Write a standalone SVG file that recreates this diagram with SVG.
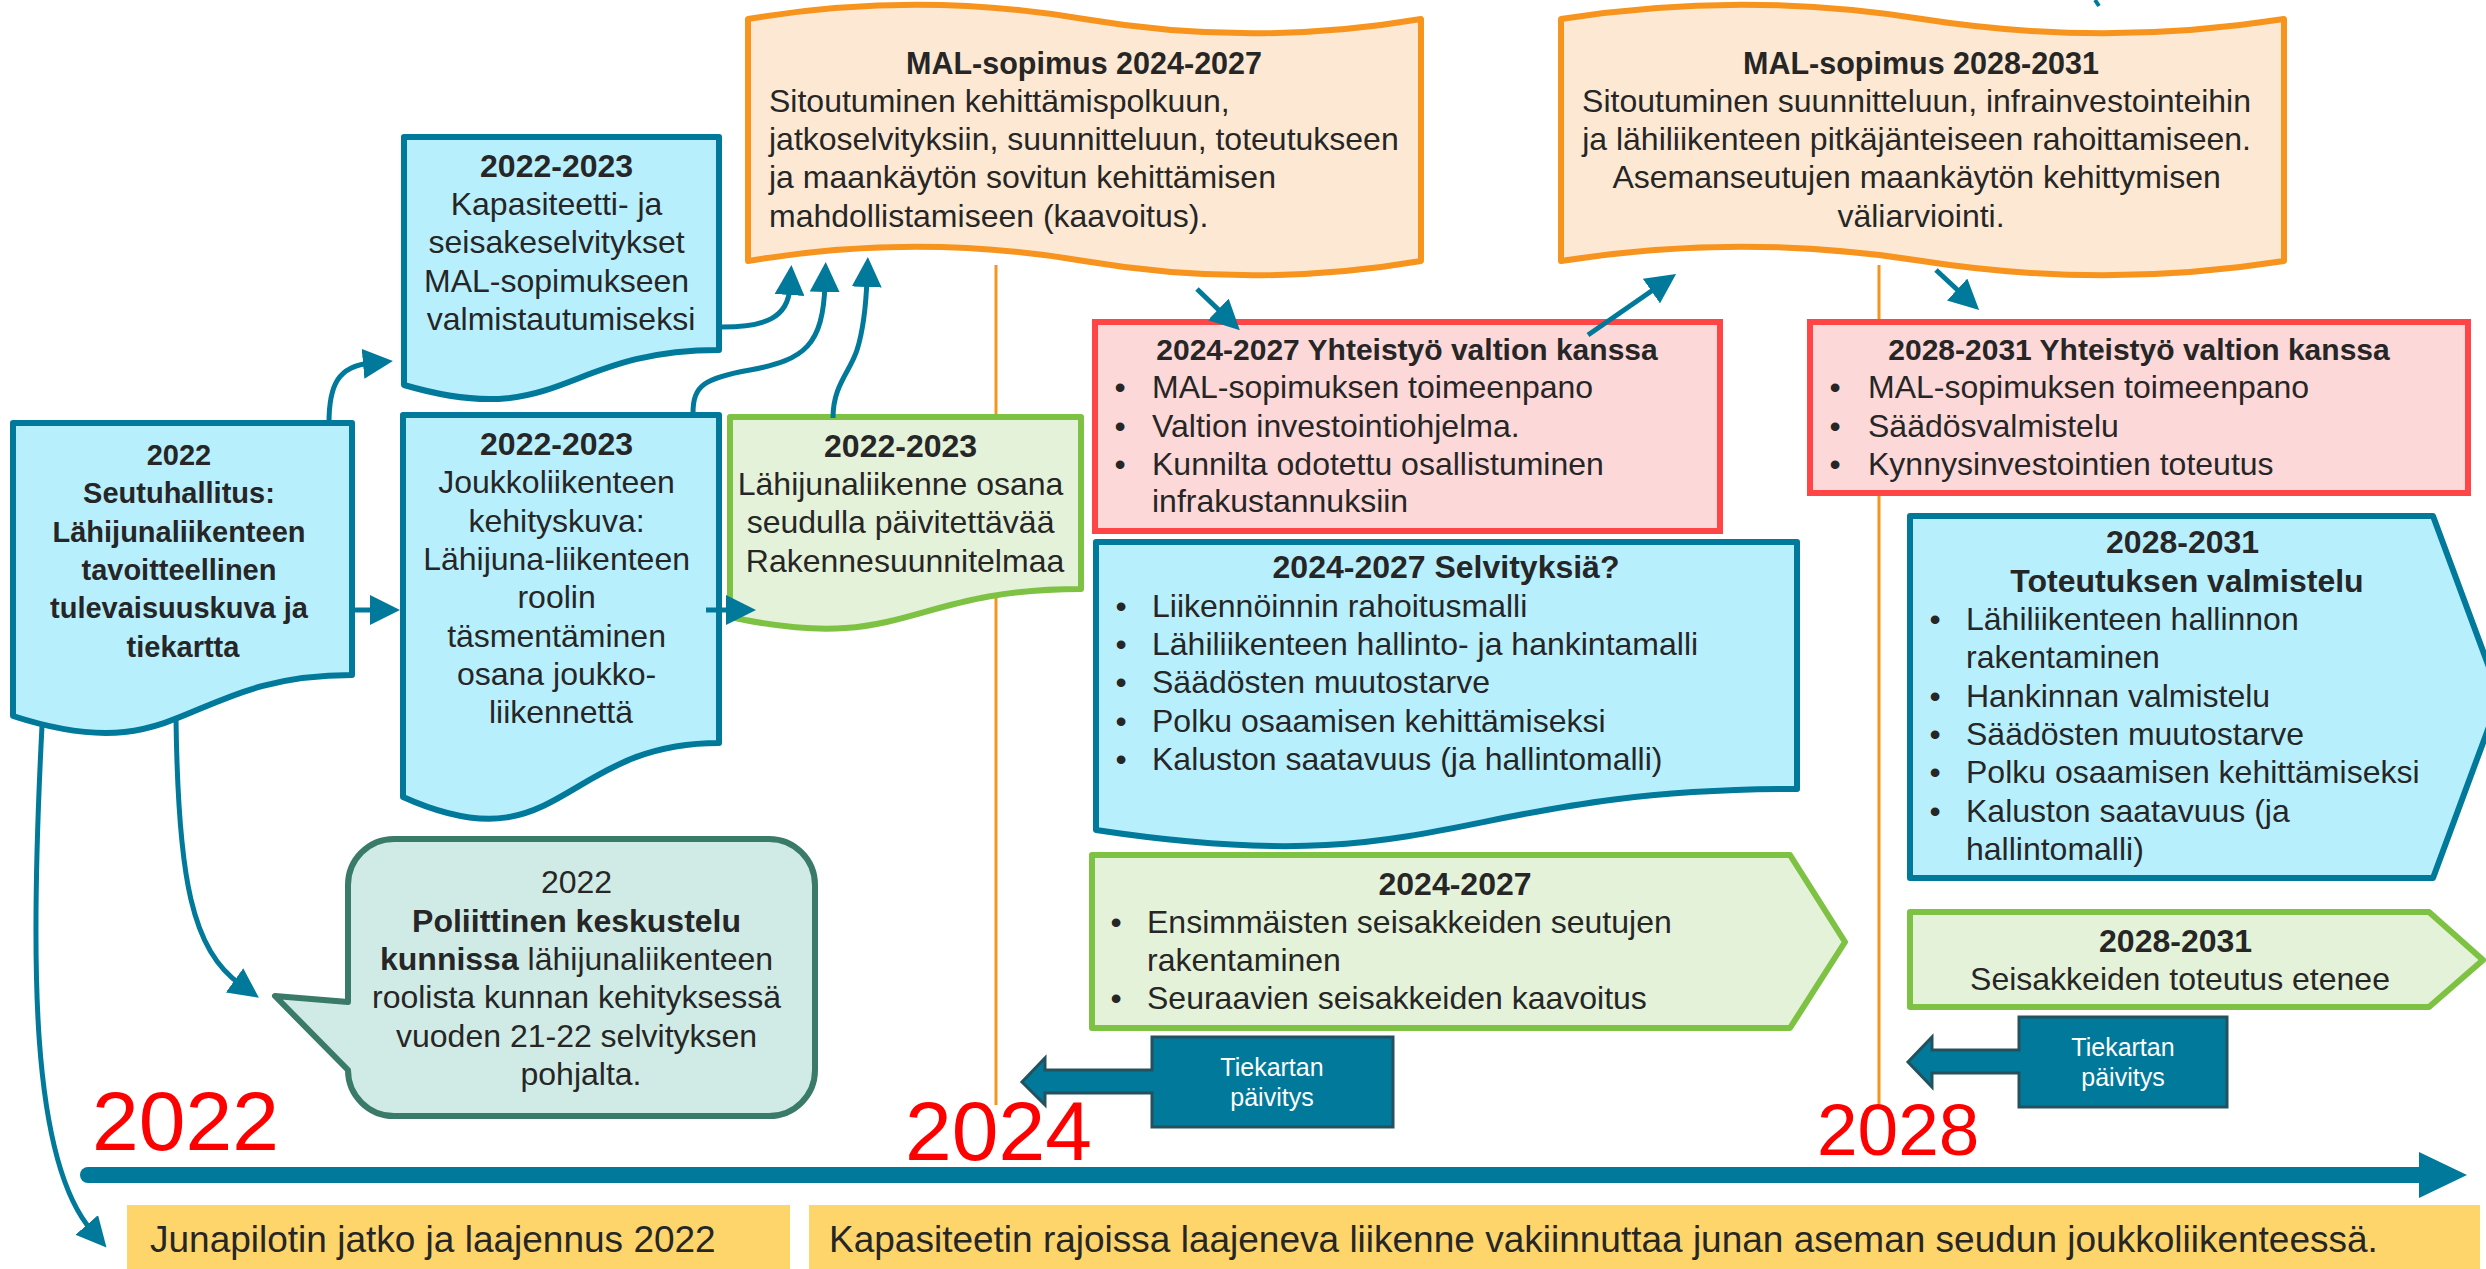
<svg xmlns="http://www.w3.org/2000/svg" width="2486" height="1269" viewBox="0 0 2486 1269">
<style>
.t{font-family:"Liberation Sans",Arial,sans-serif;fill:#262626;font-size:32px}
.b{font-weight:bold}
.c{text-anchor:middle}
.f29{font-size:29px}
.f30{font-size:30px}
.f305{font-size:30.5px}
.f37{font-size:37px}
.blue{fill:#B8EFFD;stroke:#00799A;stroke-width:6;stroke-linejoin:round}
.grn{fill:#E4F2D9;stroke:#7DC242;stroke-width:6;stroke-linejoin:round}
.org{fill:#FDE9D3;stroke:#F7941D;stroke-width:6;stroke-linejoin:round}
.red{fill:#FDD8D8;stroke:#FF4545;stroke-width:6}
.bub{fill:#D0EBE5;stroke:#3A7A68;stroke-width:6;stroke-linejoin:round}
.tie{fill:#00799A;stroke:#23525E;stroke-width:3}
.tw{font-family:"Liberation Sans",Arial,sans-serif;fill:#FFFFFF;font-size:25px;text-anchor:middle}
.bar{fill:#FDD56B}
.yr{font-family:"Liberation Sans",Arial,sans-serif;fill:#FF0000}
.vl{stroke:#F7941D;stroke-width:3;fill:none}
.con{fill:none;stroke:#00799A;stroke-width:5;marker-end:url(#ah)}
</style>
<defs>
<marker id="ah" viewBox="0 0 30 30" markerUnits="userSpaceOnUse" markerWidth="30" markerHeight="30" refX="8" refY="15" orient="auto">
<path d="M0,0 L30,15 L0,30 Z" fill="#00799A"/>
</marker>
</defs>
<rect width="2486" height="1269" fill="#FFFFFF"/>

<g id="year-lines">
<path class="vl" d="M996,265 L996,1105"/>
<path class="vl" d="M1879,265 L1879,1105"/>
</g>

<g id="timeline">
<path d="M88,1175 L2425,1175" stroke="#00799A" stroke-width="16" stroke-linecap="round" fill="none"/>
<path d="M2419,1152 L2467,1175 L2419,1198 Z" fill="#00799A"/>
</g>

<g id="years">
<text class="yr" x="92" y="1150" font-size="84">2022</text>
<text class="yr" x="905" y="1160" font-size="84">2024</text>
<text class="yr" x="1817" y="1155" font-size="73">2028</text>
</g>

<g id="bar-2022">
<rect class="bar" x="127" y="1205" width="663" height="64"/>
<text class="t f37" x="150" y="1252">Junapilotin jatko ja laajennus 2022</text>
</g>
<g id="bar-2024">
<rect class="bar" x="809" y="1205" width="1671" height="64"/>
<text class="t f37" x="829" y="1252">Kapasiteetin rajoissa laajeneva liikenne vakiinnuttaa junan aseman seudun joukkoliikenteessä.</text>
</g>

<g id="node-seutuhallitus">
<path class="blue" d="M13,423 L352,423 L352,675 C182.5,675 182.5,771 13,716 Z"/>
<text class="t b c f29">
<tspan x="183" y="465">2022</tspan>
<tspan x="183" y="503">Seutuhallitus:</tspan>
<tspan x="183" y="542">Lähijunaliikenteen</tspan>
<tspan x="183" y="580">tavoitteellinen</tspan>
<tspan x="183" y="618">tulevaisuuskuva ja</tspan>
<tspan x="183" y="657">tiekartta</tspan>
</text>
</g>

<g id="node-kapasiteetti">
<path class="blue" d="M404,137 L719,137 L719,350 C561.5,350 561.5,431 404,385 Z"/>
<text class="t c"><tspan class="b" x="561" y="177">2022-2023</tspan>
<tspan x="561" y="215">Kapasiteetti- ja</tspan>
<tspan x="561" y="253">seisakeselvitykset</tspan>
<tspan x="561" y="292">MAL-sopimukseen</tspan>
<tspan x="561" y="330">valmistautumiseksi</tspan></text>
</g>

<g id="node-joukkoliikenne">
<path class="blue" d="M403,415 L719,415 L719,743 C561,743 561,868 403,797 Z"/>
<text class="t c"><tspan class="b" x="561" y="455">2022-2023</tspan>
<tspan x="561" y="493">Joukkoliikenteen</tspan>
<tspan x="561" y="532">kehityskuva:</tspan>
<tspan x="561" y="570">Lähijuna-liikenteen</tspan>
<tspan x="561" y="608">roolin</tspan>
<tspan x="561" y="647">täsmentäminen</tspan>
<tspan x="561" y="685">osana joukko-</tspan>
<tspan x="561" y="723">liikennettä</tspan></text>
</g>

<g id="node-rakennesuunnitelma">
<path class="grn" d="M730,417 L1081,417 L1081,589 C905.5,589 905.5,655 730,617 Z"/>
<text class="t c"><tspan class="b" x="905" y="457">2022-2023</tspan>
<tspan x="905" y="495">Lähijunaliikenne osana</tspan>
<tspan x="905" y="533">seudulla päivitettävää</tspan>
<tspan x="905" y="572">Rakennesuunnitelmaa</tspan></text>
</g>

<g id="node-mal-2024">
<path class="org" d="M748,19 C860,0 972,0 1084,19 C1196,38 1309,38 1421,19 L1421,261 C1309,280 1196,280 1084,261 C972,242 860,242 748,261 Z"/>
<text class="t b c f305" x="1084" y="74">MAL-sopimus 2024-2027</text>
<text class="t"><tspan x="769" y="112">Sitoutuminen kehittämispolkuun,</tspan>
<tspan x="769" y="150">jatkoselvityksiin, suunnitteluun, toteutukseen</tspan>
<tspan x="769" y="188">ja maankäytön sovitun kehittämisen</tspan>
<tspan x="769" y="227">mahdollistamiseen (kaavoitus).</tspan></text>
</g>

<g id="node-mal-2028">
<path class="org" d="M1561,19 C1681,0 1802,0 1922,19 C2043,38 2163,38 2284,19 L2284,261 C2163,280 2043,280 1922,261 C1802,242 1681,242 1561,261 Z"/>
<text class="t b c f305" x="1921" y="74">MAL-sopimus 2028-2031</text>
<text class="t c"><tspan x="1921" y="112">Sitoutuminen suunnitteluun, infrainvestointeihin</tspan>
<tspan x="1921" y="150">ja lähiliikenteen pitkäjänteiseen rahoittamiseen.</tspan>
<tspan x="1921" y="188">Asemanseutujen maankäytön kehittymisen</tspan>
<tspan x="1921" y="227">väliarviointi.</tspan></text>
</g>

<g id="node-yhteistyo-2024">
<rect class="red" x="1095" y="322" width="625" height="209"/>
<text class="t b c f30" x="1407" y="360">2024-2027 Yhteistyö valtion kanssa</text>
<text class="t c"><tspan x="1120" y="398">•</tspan><tspan x="1120" y="437">•</tspan><tspan x="1120" y="475">•</tspan></text>
<text class="t"><tspan x="1152" y="398">MAL-sopimuksen toimeenpano</tspan>
<tspan x="1152" y="437">Valtion investointiohjelma.</tspan>
<tspan x="1152" y="475">Kunnilta odotettu osallistuminen</tspan>
<tspan x="1152" y="512">infrakustannuksiin</tspan></text>
</g>

<g id="node-yhteistyo-2028">
<rect class="red" x="1810" y="322" width="658" height="171"/>
<text class="t b c f30" x="2139" y="360">2028-2031 Yhteistyö valtion kanssa</text>
<text class="t c"><tspan x="1835" y="398">•</tspan><tspan x="1835" y="437">•</tspan><tspan x="1835" y="475">•</tspan></text>
<text class="t"><tspan x="1868" y="398">MAL-sopimuksen toimeenpano</tspan>
<tspan x="1868" y="437">Säädösvalmistelu</tspan>
<tspan x="1868" y="475">Kynnysinvestointien toteutus</tspan></text>
</g>

<g id="node-selvityksia">
<path class="blue" d="M1096,542 L1797,542 L1797,789 C1446.5,789 1446.5,883 1096,830 Z"/>
<text class="t b c" x="1446" y="578">2024-2027 Selvityksiä?</text>
<text class="t c"><tspan x="1121" y="617">•</tspan><tspan x="1121" y="655">•</tspan><tspan x="1121" y="693">•</tspan><tspan x="1121" y="732">•</tspan><tspan x="1121" y="770">•</tspan></text>
<text class="t"><tspan x="1152" y="617">Liikennöinnin rahoitusmalli</tspan>
<tspan x="1152" y="655">Lähiliikenteen hallinto- ja hankintamalli</tspan>
<tspan x="1152" y="693">Säädösten muutostarve</tspan>
<tspan x="1152" y="732">Polku osaamisen kehittämiseksi</tspan>
<tspan x="1152" y="770">Kaluston saatavuus (ja hallintomalli)</tspan></text>
</g>

<g id="node-toteutuksen-valmistelu">
<path class="blue" d="M1910,516 L2433,516 L2500,697 L2433,878 L1910,878 Z"/>
<text class="t b c"><tspan x="2187" y="553">2028-2031</tspan>
<tspan x="2187" y="592">Toteutuksen valmistelu</tspan></text>
<text class="t c"><tspan x="1935" y="630">•</tspan><tspan x="1935" y="707">•</tspan><tspan x="1935" y="745">•</tspan><tspan x="1935" y="783">•</tspan><tspan x="1935" y="822">•</tspan></text>
<text class="t"><tspan x="1966" y="630">Lähiliikenteen hallinnon</tspan>
<tspan x="1966" y="668">rakentaminen</tspan>
<tspan x="1966" y="707">Hankinnan valmistelu</tspan>
<tspan x="1966" y="745">Säädösten muutostarve</tspan>
<tspan x="1966" y="783">Polku osaamisen kehittämiseksi</tspan>
<tspan x="1966" y="822">Kaluston saatavuus (ja</tspan>
<tspan x="1966" y="860">hallintomalli)</tspan></text>
</g>

<g id="node-seisakkeet-2024">
<path class="grn" d="M1092,855 L1790,855 L1845,942 L1790,1028 L1092,1028 Z"/>
<text class="t b c" x="1455" y="895">2024-2027</text>
<text class="t c"><tspan x="1116" y="933">•</tspan><tspan x="1116" y="1009">•</tspan></text>
<text class="t"><tspan x="1147" y="933">Ensimmäisten seisakkeiden seutujen</tspan>
<tspan x="1147" y="971">rakentaminen</tspan>
<tspan x="1147" y="1009">Seuraavien seisakkeiden kaavoitus</tspan></text>
</g>

<g id="node-seisakkeet-2028">
<path class="grn" d="M1910,912 L2429,912 L2483,960 L2429,1007 L1910,1007 Z"/>
<text class="t c"><tspan class="b" x="2180" y="952">2028-2031</tspan>
<tspan x="2180" y="990">Seisakkeiden toteutus etenee</tspan></text>
</g>

<g id="node-poliittinen-keskustelu">
<path class="bub" d="M394,839 L769,839 A46,46 0 0 1 815,885 L815,1070 A46,46 0 0 1 769,1116 L394,1116 A46,46 0 0 1 348,1070 L275,996 L348,1002 L348,885 A46,46 0 0 1 394,839 Z"/>
<text class="t c"><tspan x="581" y="893">2022</tspan>
<tspan class="b" x="581" y="932">Poliittinen keskustelu</tspan>
<tspan x="581" y="970"><tspan class="b">kunnissa</tspan> lähijunaliikenteen</tspan>
<tspan x="581" y="1008">roolista kunnan kehityksessä</tspan>
<tspan x="581" y="1047">vuoden 21-22 selvityksen</tspan>
<tspan x="581" y="1085">pohjalta.</tspan></text>
</g>

<g id="node-tiekartta-2024">
<path class="tie" d="M1152,1037 L1393,1037 L1393,1127 L1152,1127 L1152,1093 L1045,1093 L1045,1105 L1022,1082 L1045,1058 L1045,1070 L1152,1070 Z"/>
<text class="tw"><tspan x="1272" y="1076">Tiekartan</tspan><tspan x="1272" y="1106">päivitys</tspan></text>
</g>

<g id="node-tiekartta-2028">
<path class="tie" d="M2019,1017 L2227,1017 L2227,1107 L2019,1107 L2019,1073 L1932,1073 L1932,1087 L1908,1062 L1932,1037 L1932,1050 L2019,1050 Z"/>
<text class="tw"><tspan x="2123" y="1056">Tiekartan</tspan><tspan x="2123" y="1086">päivitys</tspan></text>
</g>

<g id="connectors">
<path class="con" d="M329,423 C329,385 338,366 371,363"/>
<path class="con" d="M722,327 C765,327 788,318 790,287"/>
<path class="con" d="M693,413 C693,385 705,378 750,370 C805,360 823,345 825,284"/>
<path class="con" d="M833,418 C833,385 850,372 857,350 C864,328 866,305 867,279"/>
<path class="con" d="M352,610 L378,610"/>
<path class="con" d="M706,610 L734,610"/>
<path class="con" d="M176,718 C178,880 192,950 241,985"/>
<path class="con" d="M42,726 C30,960 30,1160 92,1231"/>
<path class="con" d="M1197,289 L1224,315"/>
<path class="con" d="M1588,335 L1658,286.5"/>
<path class="con" d="M1936,270 L1963,295"/>
<path d="M2095,0 L2099,6" fill="none" stroke="#00799A" stroke-width="4"/>
</g>
</svg>
